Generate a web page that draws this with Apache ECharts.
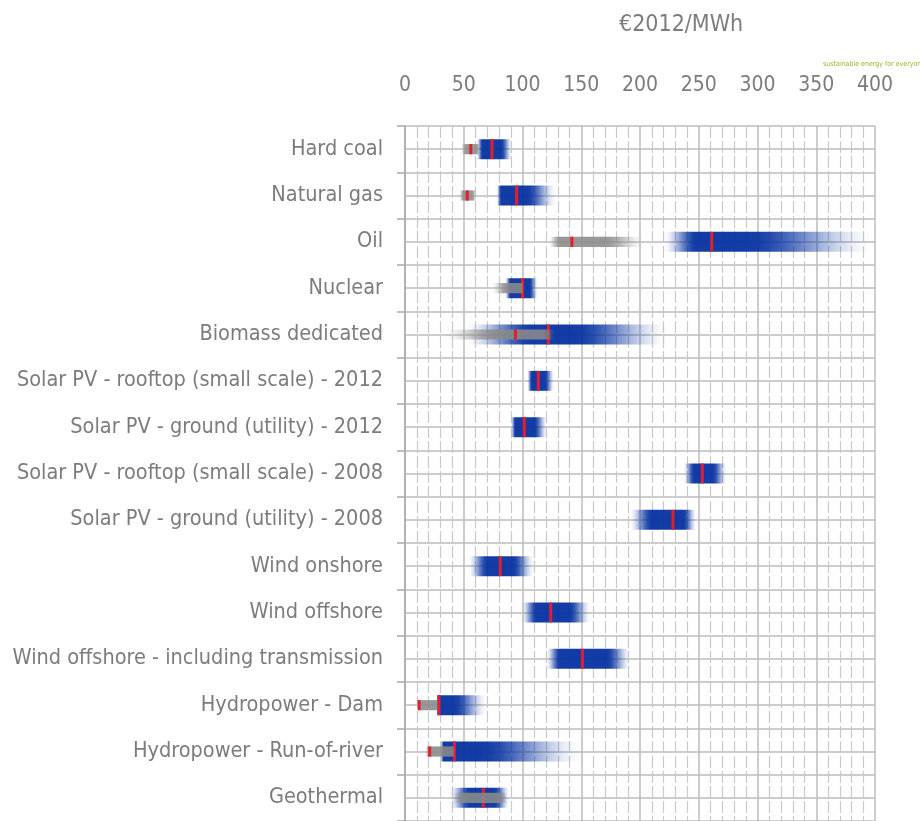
<!DOCTYPE html>
<html>
<head>
<meta charset="utf-8">
<script src="https://cdn.jsdelivr.net/npm/echarts@6/dist/echarts.min.js"></script>
<style>html,body{margin:0;padding:0;background:#fff;}#c{width:920px;height:821px;}</style>
</head>
<body>
<div id="c"></div>
<script>
const categories = [
  "Hard coal", "Natural gas", "Oil", "Nuclear", "Biomass dedicated",
  "Solar PV - rooftop (small scale) - 2012", "Solar PV - ground (utility) - 2012",
  "Solar PV - rooftop (small scale) - 2008", "Solar PV - ground (utility) - 2008",
  "Wind onshore", "Wind offshore", "Wind offshore - including transmission",
  "Hydropower - Dam", "Hydropower - Run-of-river", "Geothermal"
];
// Blue range (low end, start of dark core, end of dark core, high end, marker)
const blueLow    = [61, 78, 220, 85, 50, 104, 90, 237, 191, 54, 99, 120, 27, 30, 38];
const blueCoreLo = [66, 82, 248, 90, 108, 108, 94, 246, 210, 70, 112, 132, 28, 33, 55];
const blueCoreHi = [82, 104, 292, 106, 145, 119, 110, 262, 237, 92, 140, 172, 42, 65, 76];
const blueHigh   = [91, 129, 400, 113, 225, 127, 121, 274, 248, 110, 158, 192, 70, 152, 89];
const blueMark   = [74, 95, 261, 100, 122, 113.5, 101.5, 253, 228, 81, 124, 151, 29, 42, 66.7];
// Grey range (null = none)
const grayLow    = [48, 46, 122, 74, 30, null, null, null, null, null, null, null, 11, 17, 40];
const grayCoreLo = [52, 50, 132, 86, 82, null, null, null, null, null, null, null, 12, 21, 50];
const grayCoreHi = [61, 57, 170, 99, 118, null, null, null, null, null, null, null, 27, 40, 80];
const grayHigh   = [64, 61, 205, 101, 128, null, null, null, null, null, null, null, 28, 43, 88];
const grayMark   = [56, 53, 142, null, 94, null, null, null, null, null, null, null, 12, 21, null];
const xTicks = {min: 0, max: 400, step: 50};

const FONT = "'Liberation Sans Narrow', 'DejaVu Sans Condensed', 'Noto Sans', sans-serif";
const TXT = '#7c7c7c';

function makeStops(lo, cl, ch, hi, rgb, A) {
  const span = hi - lo || 1;
  const p1 = Math.max(0, Math.min(1, (cl - lo) / span));
  const p2 = Math.max(p1, Math.min(1, (ch - lo) / span));
  const stops = [];
  const N = 10;
  const ease = t => t * t * (3 - 2 * t);
  for (let k = 0; k <= N; k++) {
    const t = k / N;
    stops.push({offset: p1 * t, color: `rgba(${rgb},${(A * ease(t)).toFixed(3)})`});
  }
  for (let k = 0; k <= N; k++) {
    const t = k / N;
    stops.push({offset: p2 + (1 - p2) * t, color: `rgba(${rgb},${(A * ease(1 - t)).toFixed(3)})`});
  }
  return stops;
}

function makeRender(rgb, A, frac) {
  return function (params, api) {
    const ci = api.value(0);
    const lo = api.value(1), cl = api.value(2), ch = api.value(3), hi = api.value(4), mk = api.value(5);
    if (isNaN(lo)) return null;
    const band = api.size([0, 1])[1];
    const h = band * frac;
    const pLo = api.coord([lo, ci]);
    const pHi = api.coord([hi, ci]);
    const children = [{
      type: 'rect',
      shape: {x: pLo[0], y: pLo[1] - h / 2, width: Math.max(1, pHi[0] - pLo[0]), height: h},
      style: {fill: new echarts.graphic.LinearGradient(0, 0, 1, 0, makeStops(lo, cl, ch, hi, rgb, A))}
    }];
    if (!isNaN(mk)) {
      const pm = api.coord([mk, ci]);
      children.push({
        type: 'rect',
        shape: {x: pm[0] - 1.5, y: pm[1] - h / 2, width: 3, height: h},
        style: {fill: 'rgb(228,30,45)'}
      });
    }
    return {type: 'group', children: children};
  };
}

const blueData = categories.map((c, i) => [i, blueLow[i], blueCoreLo[i], blueCoreHi[i], blueHigh[i], blueMark[i]]);
const grayData = categories.map((c, i) => [i,
  grayLow[i] == null ? NaN : grayLow[i], grayCoreLo[i] == null ? NaN : grayCoreLo[i],
  grayCoreHi[i] == null ? NaN : grayCoreHi[i], grayHigh[i] == null ? NaN : grayHigh[i],
  grayMark[i] == null ? NaN : grayMark[i]]);

const chart = echarts.init(document.getElementById('c'), null, {renderer: 'canvas'});
chart.setOption({
  animation: false,
  backgroundColor: '#fff',
  title: [
    {text: '€2012/MWh', left: 614, top: 9, textStyle: {fontFamily: FONT, fontSize: 23, fontWeight: 'normal', color: TXT}},
    {text: 'sustainable energy for everyone', left: 818, top: 56, textStyle: {fontFamily: FONT, fontSize: 7, fontWeight: 'normal', color: '#98b52c'}}
  ],
  grid: {left: 405, right: 45, top: 126, bottom: 0, containLabel: false, outerBoundsMode: 'none'},
  xAxis: {
    type: 'value', position: 'top', min: xTicks.min, max: xTicks.max, interval: xTicks.step,
    axisLine: {show: false}, axisTick: {show: false},
    axisLabel: {margin: 30, fontSize: 21, color: TXT, fontFamily: FONT},
    splitLine: {show: true, lineStyle: {color: '#bcbcbc', width: 1.5}},
    minorTick: {show: false, splitNumber: 5},
    minorSplitLine: {show: true, lineStyle: {color: '#c9c9c9', width: 1.2, type: [12, 3]}}
  },
  yAxis: [
    {
      type: 'category', data: categories, inverse: true,
      axisLine: {show: true, lineStyle: {color: '#a9a9a9', width: 1.5}},
      axisTick: {show: true, length: 8, lineStyle: {color: '#a9a9a9', width: 1.5}},
      axisLabel: {margin: 22, fontSize: 21.5, color: TXT, fontFamily: FONT},
      splitLine: {show: false}
    },
    {
      type: 'value', min: 0, max: 30, interval: 1, position: 'right',
      axisLine: {show: false}, axisTick: {show: false}, axisLabel: {show: false},
      splitLine: {show: true, lineStyle: {color: '#bcbcbc', width: 1.5}}
    }
  ],
  series: [
    {type: 'custom', name: 'blue', xAxisIndex: 0, yAxisIndex: 0, z: 3,
     renderItem: makeRender('4,48,160', 0.94, 0.43), data: blueData, encode: {x: [1, 2, 3, 4, 5], y: 0}},
    {type: 'custom', name: 'grey', xAxisIndex: 0, yAxisIndex: 0, z: 4,
     renderItem: makeRender('138,138,138', 0.88, 0.22), data: grayData, encode: {x: [1, 2, 3, 4, 5], y: 0}}
  ]
});
</script>
</body>
</html>
